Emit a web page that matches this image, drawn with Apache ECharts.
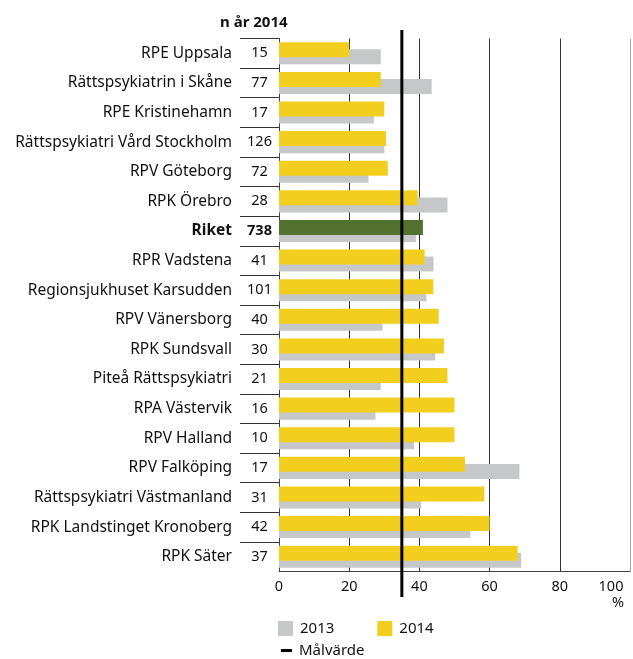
<!DOCTYPE html>
<html><head><meta charset="utf-8">
<script src="https://cdn.jsdelivr.net/npm/echarts@6/dist/echarts.min.js"></script>
<style>html,body{margin:0;padding:0;background:#fff}#c{width:633px;height:659px}</style>
</head><body><div id="c"></div>
<script>
const categories = ['RPE Uppsala','Rättspsykiatrin i Skåne','RPE Kristinehamn','Rättspsykiatri Vård Stockholm','RPV Göteborg','RPK Örebro','Riket','RPR Vadstena','Regionsjukhuset Karsudden','RPV Vänersborg','RPK Sundsvall','Piteå Rättspsykiatri','RPA Västervik','RPV Halland','RPV Falköping','Rättspsykiatri Västmanland','RPK Landstinget Kronoberg','RPK Säter'];
const nValues = [15,77,17,126,72,28,738,41,101,40,30,21,16,10,17,31,42,37];
const values2014 = [20,29,30,30.5,31,39.5,41,41.5,44,45.5,47,48,50,50,53,58.5,60,68];
const values2013 = [29,43.5,27,30,25.5,48,39,44,42,29.5,44.5,29,27.5,38.5,68.5,40.5,54.5,69];
const target = 35;
const highlight = 'Riket';

const FONT = '"Noto Sans", "Open Sans", sans-serif';
const YEL = '#F2CF1F', GRAY = '#C6C7C8', GREEN = '#52712F';
const chart = echarts.init(document.getElementById('c'), null, {renderer:'canvas'});
const GL = 279, GW = 351, GT = 38.5, GH = 533;

chart.setOption({
  animation: false,
  textStyle: {fontFamily: FONT},
  title: {text: 'n år 2014', left: 220, top: 15, padding: 0,
    textStyle: {fontFamily: FONT, fontSize: 15, fontWeight: 'bold', color: '#111'}},
  legend: [
    {data: ['2013','2014'], left: 278, top: 621, padding: 0, itemWidth: 15, itemHeight: 15, itemGap: 43,
     icon: 'rect', textStyle: {fontFamily: FONT, fontSize: 15, color: '#111', padding:[0,0,0,2]}},
    {data: ['Målvärde'], left: 281, top: 643, padding: 0, itemWidth: 11, itemHeight: 3, icon: 'rect',
     textStyle: {fontFamily: FONT, fontSize: 15, color: '#111', padding:[0,0,0,2]}}
  ],
  grid: [
    {left: GL, width: GW, top: GT, height: GH, outerBoundsMode: 'none', containLabel: false},
    {left: 240, width: 39, top: GT, height: GH, outerBoundsMode: 'none', containLabel: false},
    {left: GL, width: GW, top: 30, height: 567, outerBoundsMode: 'none', containLabel: false}
  ],
  xAxis: [
    {type: 'value', gridIndex: 0, min: 0, max: 100, interval: 20,
     axisLine: {show: true, lineStyle: {color: '#444', width: 1}}, axisTick: {show: false},
     axisLabel: {fontFamily: FONT, fontSize: 14.5, color: '#111', margin: 8,
       formatter: (v) => v === 100 ? `{last|${v}}` : `${v}`,
       rich: {last: {fontFamily: FONT, fontSize: 14.5, color: '#111', padding: [0, 38, 0, 0]}}},
     splitLine: {show: true, lineStyle: {color: ['#444','#333','#333','#333','#333','#aaa'], width: 1}},
     name: '%', nameLocation: 'end', nameGap: -18,
     nameTextStyle: {fontFamily: FONT, fontSize: 14.5, color: '#111', verticalAlign: 'top', padding: [24,0,0,0]}},
    {type: 'value', gridIndex: 1, show: false, min: 0, max: 1},
    {type: 'value', gridIndex: 2, show: false, min: 0, max: 100}
  ],
  yAxis: [
    {type: 'category', gridIndex: 0, data: categories, inverse: true,
     axisLine: {show: true, lineStyle: {color: '#444', width: 1}}, axisTick: {show: false},
     splitLine: {show: false},
     axisLabel: {margin: 0, interval: 0,
       formatter: (v, i) => v === highlight ? `{nb|${v}}{cb|${nValues[i]}}` : `{nm|${v}}{cn|${nValues[i]}}`,
       rich: {
         nm: {fontFamily: FONT, fontSize: 15.5, color: '#111', padding: [0,8,0,0]},
         nb: {fontFamily: FONT, fontSize: 15.5, color: '#111', fontWeight: 'bold', padding: [0,8,0,0]},
         cn: {fontFamily: FONT, fontSize: 14.5, color: '#111', width: 39, align: 'center'},
         cb: {fontFamily: FONT, fontSize: 14.5, color: '#111', fontWeight: 'bold', width: 39, align: 'center'}
       }}},
    {type: 'category', gridIndex: 1, data: categories, inverse: true,
     axisLine: {show: false}, axisTick: {show: false}, axisLabel: {show: false},
     splitLine: {show: true, showMaxLine: false, lineStyle: {color: '#333', width: 1}}},
    {type: 'value', gridIndex: 2, show: false, min: 0, max: 1}
  ],
  series: [
    {name: '2014', type: 'bar', xAxisIndex: 0, yAxisIndex: 0, barWidth: 15, barGap: '-53%', z: 3,
     itemStyle: {color: YEL},
     data: values2014.map((v, i) => categories[i] === highlight ? {value: v, itemStyle: {color: GREEN}} : v)},
    {name: '2013', type: 'bar', xAxisIndex: 0, yAxisIndex: 0, barWidth: 15, z: 2,
     itemStyle: {color: GRAY}, data: values2013},
    {name: 'Målvärde', type: 'line', xAxisIndex: 2, yAxisIndex: 2, symbol: 'none', z: 5,
     lineStyle: {color: '#000', width: 3}, itemStyle: {color: '#000'},
     data: [[target, 0], [target, 1]]}
  ]
});
</script></body></html>
